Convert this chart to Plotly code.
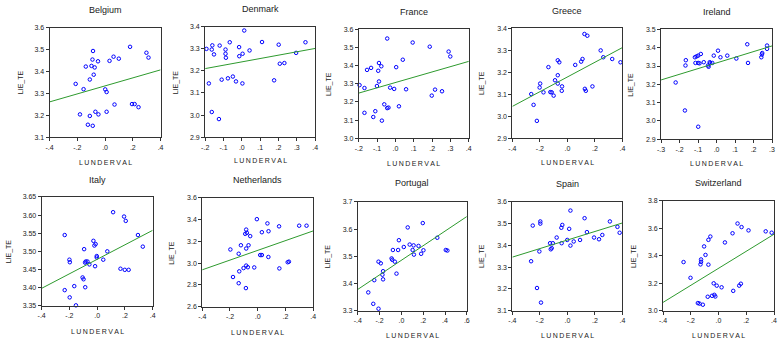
import numpy as np
import plotly.graph_objects as go

W, H = 780, 343

countries = ["Belgium", "Denmark", "France", "Greece", "Ireland",
             "Italy", "Netherlands", "Portugal", "Spain", "Switzerland"]

belgium_x = [-0.087, 0.18, 0.298, 0.313, 0.061, 0.099, 0.032, -0.051, -0.091, -0.139, -0.098, -0.075,
             -0.082, -0.11, -0.212, -0.155, 0.001, 0.011, 0.068, 0.194, 0.213, 0.241, 0.011, -0.07,
             -0.048, -0.181, -0.11, -0.124, -0.089]
belgium_y = [3.493, 3.512, 3.485, 3.463, 3.467, 3.458, 3.448, 3.446, 3.454, 3.422, 3.425, 3.418,
             3.385, 3.363, 3.343, 3.319, 3.318, 3.306, 3.249, 3.251, 3.251, 3.237, 3.216, 3.216,
             3.204, 3.204, 3.197, 3.157, 3.152]

denmark_x = [0.013, -0.193, -0.161, -0.164, -0.121, -0.066, -0.089, -0.089, -0.087, -0.152, -0.015,
             -0.014, 0.004, 0.042, 0.110, 0.201, 0.347, 0.296, 0.207, 0.232, -0.180, -0.110, -0.076,
             -0.049, -0.032, 0.003, 0.176, -0.164, -0.125]
denmark_y = [3.382, 3.299, 3.315, 3.296, 3.314, 3.329, 3.296, 3.277, 3.259, 3.274, 3.307,
             3.266, 3.277, 3.292, 3.330, 3.318, 3.329, 3.281, 3.232, 3.235, 3.143, 3.160, 3.166,
             3.174, 3.152, 3.143, 3.157, 3.014, 2.982]

france_x = [-0.045, 0.094, 0.187, 0.29, 0.299, 0.04, -0.09, -0.077, -0.133, -0.155, -0.094, 0.004,
            -0.09, -0.196, -0.101, -0.169, -0.029, -0.007, 0.058, 0.216, 0.254, 0.198, -0.061, 0.019,
            -0.038, -0.045, -0.11, -0.169, -0.121, -0.074]
france_y = [3.550, 3.528, 3.505, 3.478, 3.451, 3.433, 3.415, 3.397, 3.388, 3.377, 3.372, 3.392,
            3.313, 3.293, 3.288, 3.277, 3.279, 3.272, 3.270, 3.268, 3.259, 3.235, 3.187, 3.176,
            3.169, 3.166, 3.149, 3.140, 3.117, 3.097]

greece_x = [0.124, 0.145, 0.242, 0.261, 0.326, 0.386, 0.11, 0.1, 0.057, -0.07, -0.059, -0.138,
            -0.07, -0.09, -0.07, -0.198, -0.202, -0.039, -0.041, -0.174, -0.124, -0.114, -0.263,
            -0.1, 0.182, 0.127, 0.134, -0.246, -0.222]
greece_y = [3.375, 3.367, 3.300, 3.269, 3.261, 3.246, 3.261, 3.249, 3.234, 3.255, 3.246, 3.224,
            3.187, 3.164, 3.149, 3.149, 3.131, 3.136, 3.116, 3.109, 3.110, 3.109, 3.101,
            3.094, 3.136, 3.125, 3.116, 3.052, 2.979]

ireland_x = [0.166, 0.273, 0.273, 0.008, 0.247, 0.245, 0.242, 0.058, -0.015, 0.021, 0.107, -0.085,
             -0.099, -0.108, -0.117, -0.166, -0.168, -0.114, -0.099, -0.069, -0.092, -0.037, -0.023,
             -0.034, -0.046, -0.043, 0.17, -0.221, -0.171, -0.099]
ireland_y = [3.419, 3.412, 3.394, 3.384, 3.371, 3.363, 3.348, 3.357, 3.357, 3.348, 3.341, 3.366,
             3.357, 3.353, 3.348, 3.332, 3.303, 3.317, 3.317, 3.321, 3.315, 3.321, 3.317,
             3.315, 3.303, 3.296, 3.317, 3.210, 3.057, 2.968]

italy_x = [0.115, 0.194, 0.206, -0.234, 0.294, 0.329, -0.027, -0.011, -0.02, -0.094, 0.073, -0.003,
           -0.003, 0.044, -0.2, -0.197, -0.082, -0.07, -0.087, -0.056, -0.015, 0.199, 0.227, 0.168,
           -0.105, -0.098, -0.165, -0.086, -0.234, -0.198, -0.153]
italy_y = [3.608, 3.596, 3.584, 3.545, 3.545, 3.513, 3.529, 3.520, 3.516, 3.506, 3.500, 3.487,
           3.483, 3.477, 3.477, 3.470, 3.472, 3.472, 3.469, 3.464, 3.459, 3.449, 3.449, 3.452,
           3.428, 3.423, 3.404, 3.401, 3.393, 3.373, 3.351]

netherlands_x = [-0.006, 0.07, 0.154, 0.299, 0.352, -0.083, -0.078, -0.09, 0.03, 0.078, -0.054,
                 -0.121, -0.066, -0.197, -0.083, -0.137, 0.018, 0.03, 0.077, 0.225, 0.216, -0.083,
                 -0.071, -0.102, -0.025, 0.156, -0.133, -0.178, -0.137, -0.085]
netherlands_y = [3.405, 3.366, 3.339, 3.345, 3.345, 3.309, 3.279, 3.270, 3.285, 3.294, 3.249,
                 3.165, 3.165, 3.126, 3.135, 3.087, 3.075, 3.075, 3.057, 3.014, 3.009, 2.978,
                 2.963, 2.955, 2.961, 2.952, 2.925, 2.873, 2.816, 2.771]

portugal_x = [0.196, 0.058, 0.329, -0.023, 0.076, 0.112, 0.157, 0.022, -0.078, -0.03, 0.103, 0.202,
              0.407, 0.422, 0.181, 0.115, -0.09, -0.084, -0.06, -0.21, -0.189, -0.168, -0.174,
              -0.045, -0.168, -0.249, -0.304, -0.258, -0.21]
portugal_y = [3.622, 3.606, 3.568, 3.559, 3.543, 3.540, 3.538, 3.534, 3.523, 3.523, 3.523, 3.522,
              3.523, 3.521, 3.509, 3.506, 3.492, 3.487, 3.480, 3.480, 3.474, 3.445, 3.432,
              3.436, 3.415, 3.412, 3.367, 3.325, 3.307]

spain_x = [0.022, 0.125, 0.309, -0.197, -0.197, -0.252, -0.037, -0.044, 0.013, 0.364, 0.38, 0.142,
           0.254, 0.194, 0.23, 0.092, -0.001, 0.046, -0.078, -0.042, -0.106, -0.126, -0.114, -0.121,
           0.022, -0.204, -0.264, -0.221, -0.192]
spain_y = [3.560, 3.525, 3.510, 3.510, 3.500, 3.491, 3.494, 3.481, 3.476, 3.485, 3.458, 3.461,
           3.448, 3.436, 3.428, 3.425, 3.425, 3.418, 3.436, 3.410, 3.410, 3.410, 3.387, 3.382,
           3.399, 3.372, 3.327, 3.204, 3.137]

switzerland_x = [0.137, 0.166, 0.216, 0.34, 0.383, 0.101, 0.046, -0.059, -0.073, -0.104, -0.094,
                 -0.126, -0.126, -0.13, -0.073, -0.252, -0.202, -0.035, -0.013, 0.022, 0.161, 0.149,
                 0.106, -0.078, -0.047, -0.03, -0.023, -0.149, -0.137, -0.113]
switzerland_y = [3.635, 3.609, 3.585, 3.578, 3.568, 3.564, 3.497, 3.540, 3.516, 3.468, 3.406,
                 3.373, 3.356, 3.337, 3.335, 3.354, 3.239, 3.199, 3.182, 3.170, 3.196, 3.182,
                 3.144, 3.101, 3.108, 3.115, 3.103, 3.055, 3.051, 3.043]

# fitted regression line values at the left and right edges of each x range
fit_left = [3.261, 3.210, 3.249, 3.045, 3.224, 3.398, 2.939, 3.378, 3.346, 3.060]
fit_right = [3.407, 3.301, 3.424, 3.313, 3.410, 3.558, 3.297, 3.646, 3.503, 3.557]

xs = [belgium_x, denmark_x, france_x, greece_x, ireland_x,
      italy_x, netherlands_x, portugal_x, spain_x, switzerland_x]
ys = [belgium_y, denmark_y, france_y, greece_y, ireland_y,
      italy_y, netherlands_y, portugal_y, spain_y, switzerland_y]

# layout: plot box in pixels (x0, x1, ytop, ybottom), axis ranges, tick steps, decimals
panels = [
    dict(box=(46, 158, 24, 136), xr=(-0.4, 0.4), xs=0.2, yr=(3.1, 3.6), ys=0.1, yd=1, ty=6, xty=162, yty=18),
    dict(box=(203, 314, 23, 136), xr=(-0.2, 0.4), xs=0.1, yr=(2.9, 3.4), ys=0.1, yd=1, ty=5, xty=160, yty=173),
    dict(box=(358, 469, 26, 137), xr=(-0.2, 0.4), xs=0.1, yr=(3.0, 3.6), ys=0.1, yd=1, ty=8, xty=163, yty=328),
    dict(box=(513, 624, 25, 137), xr=(-0.4, 0.4), xs=0.2, yr=(2.9, 3.4), ys=0.1, yd=1, ty=7, xty=162, yty=483),
    dict(box=(663, 775, 26, 138), xr=(-0.3, 0.3), xs=0.1, yr=(2.9, 3.5), ys=0.1, yd=1, ty=8, xty=163, yty=633),
    dict(box=(38, 150, 197, 308), xr=(-0.4, 0.4), xs=0.2, yr=(3.35, 3.65), ys=0.05, yd=2, ty=180, xty=334, yty=5),
    dict(box=(200, 312, 198, 309), xr=(-0.4, 0.4), xs=0.2, yr=(2.6, 3.6), ys=0.2, yd=1, ty=180, xty=335, yty=170),
    dict(box=(357, 467, 202, 313), xr=(-0.4, 0.6), xs=0.2, yr=(3.3, 3.7), ys=0.1, yd=1, ty=183, xty=338, yty=327),
    dict(box=(513, 624, 202, 313), xr=(-0.4, 0.4), xs=0.2, yr=(3.1, 3.6), ys=0.1, yd=1, ty=184, xty=338, yty=483),
    dict(box=(665, 777, 201, 313), xr=(-0.4, 0.4), xs=0.2, yr=(3.0, 3.8), ys=0.2, yd=1, ty=183, xty=338, yty=635),
]


def fmt_x(v):
    s = f"{v:.1f}"
    if s in ("0.0", "-0.0"):
        return ".0"
    return s.replace("0.", ".", 1)


fig = go.Figure()
FONT = "Liberation Sans, Arial, sans-serif"
TXT = "#222222"
annotations = []

for i, (name, p) in enumerate(zip(countries, panels)):
    k = "" if i == 0 else str(i + 1)
    x0, x1, yt, yb = p["box"]
    xt = np.round(np.arange(p["xr"][0], p["xr"][1] + 1e-9, p["xs"]), 3)
    yv = np.round(np.arange(p["yr"][0], p["yr"][1] + 1e-9, p["ys"]), 3)
    fig.update_layout(**{
        f"xaxis{k}": dict(domain=[x0 / W, x1 / W], anchor=f"y{k}", range=list(p["xr"]),
                          tickvals=list(xt), ticktext=[fmt_x(v) for v in xt],
                          showgrid=False, zeroline=False, showline=True, mirror=True,
                          linecolor="#333333", linewidth=1, ticks="outside", ticklen=3,
                          tickcolor="#333333", tickfont=dict(size=7, color=TXT, family=FONT)),
        f"yaxis{k}": dict(domain=[1 - yb / H, 1 - yt / H], anchor=f"x{k}", range=list(p["yr"]),
                          tickvals=list(yv), ticktext=[f"{v:.{p['yd']}f}" for v in yv],
                          showgrid=False, zeroline=False, showline=True, mirror=True,
                          linecolor="#333333", linewidth=1, ticks="outside", ticklen=3,
                          tickcolor="#333333", tickfont=dict(size=7, color=TXT, family=FONT)),
    })
    fig.add_trace(go.Scatter(x=xs[i], y=ys[i], mode="markers", xaxis=f"x{k}", yaxis=f"y{k}",
                             marker=dict(symbol="circle-open", size=3.5, color="#0000ff",
                                         line=dict(width=1, color="#0000ff")),
                             showlegend=False, cliponaxis=False, hoverinfo="skip"))
    fig.add_trace(go.Scatter(x=[p["xr"][0], p["xr"][1]], y=[fit_left[i], fit_right[i]], mode="lines",
                             xaxis=f"x{k}", yaxis=f"y{k}", line=dict(color="#2e9a2e", width=1),
                             showlegend=False, hoverinfo="skip"))
    cx = (x0 + x1) / 2 / W
    cy = 1 - (yt + yb) / 2 / H
    annotations.append(dict(text=name, x=cx, y=1 - p["ty"] / H, xref="paper", yref="paper",
                            showarrow=False, xanchor="center", yanchor="middle",
                            font=dict(size=9, color=TXT, family=FONT)))
    annotations.append(dict(text="L U N D E R V A L".replace(" ", "\u2009"), x=cx, y=1 - p["xty"] / H,
                            xref="paper", yref="paper", showarrow=False, xanchor="center",
                            yanchor="middle", font=dict(size=7, color=TXT, family=FONT)))
    annotations.append(dict(text="LIE_TE", x=p["yty"] / W, y=cy, xref="paper", yref="paper",
                            showarrow=False, xanchor="center", yanchor="middle", textangle=-90,
                            font=dict(size=7, color=TXT, family=FONT)))

fig.update_layout(width=W, height=H, margin=dict(l=0, r=0, t=0, b=0), hovermode=False,
                  paper_bgcolor="white", plot_bgcolor="white", annotations=annotations)

fig.write_html("out.html", config={"displayModeBar": False, "staticPlot": True},
               post_script="document.body.style.margin='0';document.body.style.padding='0';"
                           "document.documentElement.style.overflow='hidden';")
